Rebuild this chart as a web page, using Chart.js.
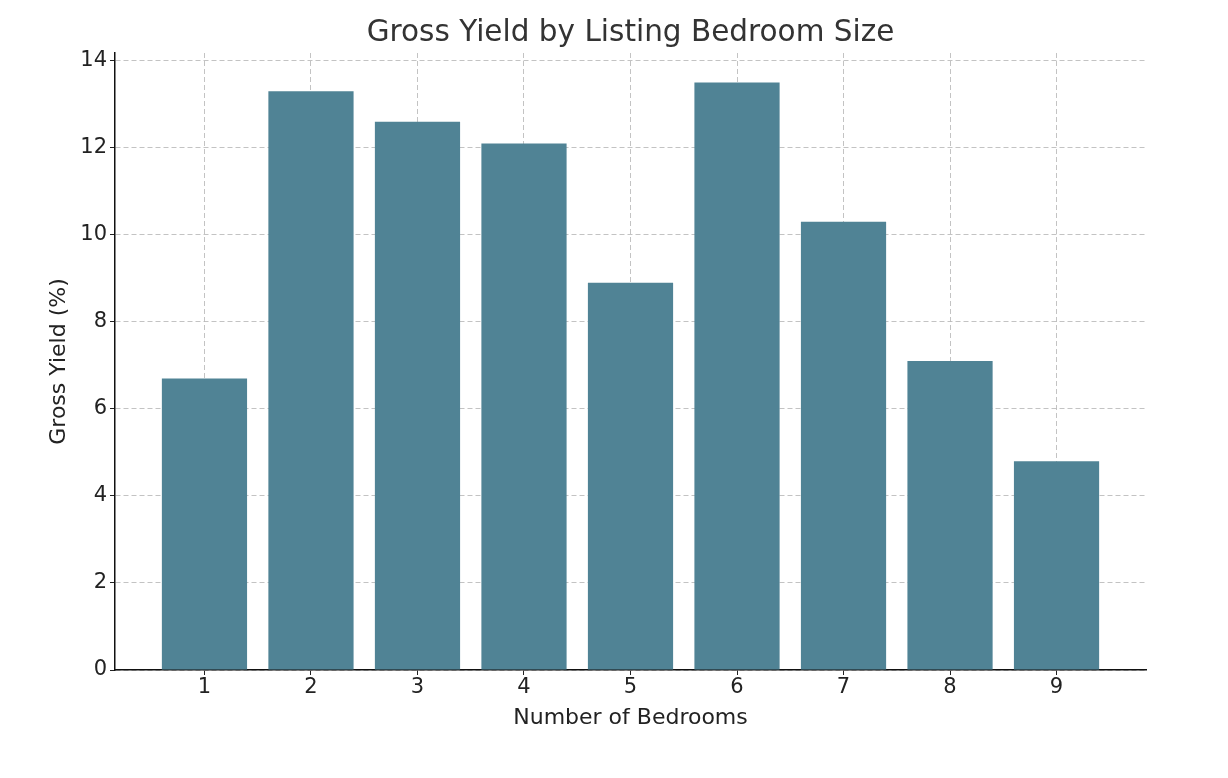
<!DOCTYPE html>
<html>
<head>
<meta charset="utf-8">
<script src="https://cdn.jsdelivr.net/npm/chart.js@4"></script>
<style>
  html, body { margin: 0; padding: 0; background: #fff; }
  #wrap { width: 1228px; height: 778px; }
</style>
</head>
<body>
<div id="wrap"><canvas id="chart" width="1228" height="778"></canvas></div>
<script>
const bedrooms = [1, 2, 3, 4, 5, 6, 7, 8, 9];
const grossYield = [6.7, 13.3, 12.6, 12.1, 8.9, 13.5, 10.3, 7.1, 4.8];
const yTicks = [0, 2, 4, 6, 8, 10, 12, 14];

const font = 'DejaVu Sans';

// title centred over the plot area, like matplotlib
const titlePlugin = {
  id: 'plotTitle',
  afterDraw(chart) {
    const { ctx, chartArea } = chart;
    ctx.save();
    ctx.font = `29.5px "${font}"`;
    ctx.fillStyle = '#333333';
    ctx.textAlign = 'center';
    ctx.textBaseline = 'middle';
    ctx.fillText('Gross Yield by Listing Bedroom Size', (chartArea.left + chartArea.right) / 2, 33);
    ctx.restore();
  }
};

new Chart(document.getElementById('chart'), {
  type: 'bar',
  plugins: [titlePlugin],
  data: {
    datasets: [{
      data: bedrooms.map((b, i) => ({ x: b, y: grossYield[i] })),
      backgroundColor: '#508395',
      borderWidth: 0,
      barPercentage: 0.8,
      categoryPercentage: 1.0,
    }],
  },
  options: {
    responsive: false,
    animation: false,
    layout: { padding: { left: 46, right: 82, top: 53, bottom: 47 } },
    plugins: {
      legend: { display: false },
      tooltip: { enabled: false },
    },
    scales: {
      x: {
        type: 'linear',
        min: 0.16,
        max: 9.84,
        offset: false,
        z: 1,
        afterBuildTicks: (scale) => { scale.ticks = bedrooms.map(v => ({ value: v })); },
        afterFit: (scale) => { scale.height = 61; },
        ticks: { font: { family: font, size: 21 }, color: '#222222', padding: 0 },
        grid: { offset: false, color: 'rgba(185,185,185,0.85)', lineWidth: 1, tickLength: 5, tickColor: '#222222' },
        border: { color: '#111111', width: 1.5, dash: [5, 3] },
        title: { display: true, text: 'Number of Bedrooms', font: { family: font, size: 22 }, color: '#222222', padding: { top: 4, bottom: 0 } },
      },
      y: {
        min: 0,
        max: 14.18,
        z: 1,
        afterBuildTicks: (scale) => { scale.ticks = yTicks.map(v => ({ value: v })); },
        afterFit: (scale) => { scale.width = 115 - 46; },
        ticks: { font: { family: font, size: 21 }, color: '#222222', padding: 3 },
        grid: { color: 'rgba(185,185,185,0.85)', lineWidth: 1, tickLength: 5, tickColor: '#222222' },
        border: { color: '#111111', width: 1.5, dash: [5, 3] },
        title: { display: true, text: 'Gross Yield (%)', font: { family: font, size: 22 }, color: '#222222', padding: { top: 0, bottom: 4 } },
      },
    },
  },
});
</script>
</body>
</html>
